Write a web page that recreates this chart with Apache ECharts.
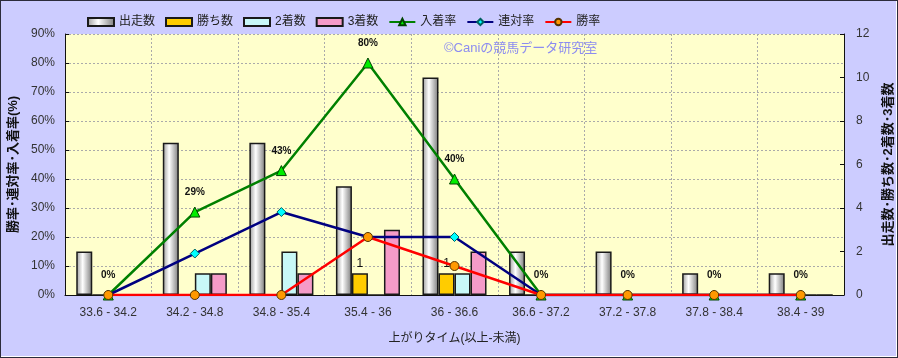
<!DOCTYPE html>
<html>
<head>
<meta charset="utf-8">
<script src="https://cdn.jsdelivr.net/npm/echarts@6/dist/echarts.min.js"></script>
<style>
html,body{margin:0;padding:0;background:#CCCCFF;}
#wrap{width:898px;height:358px;box-sizing:border-box;border:1px solid #2b2b3b;box-shadow:inset -1px -1px 0 #ffffff;background:#CCCCFF;}
#c{width:896px;height:356px;}
</style>
</head>
<body>
<div id="wrap"><div id="c"></div></div>
<script>
const categories = ['33.6 - 34.2','34.2 - 34.8','34.8 - 35.4','35.4 - 36','36 - 36.6','36.6 - 37.2','37.2 - 37.8','37.8 - 38.4','38.4 - 39'];
const starts = [2, 7, 7, 5, 10, 2, 2, 1, 1];
const wins = [0, 0, 0, 1, 1, 0, 0, 0, 0];
const seconds = [0, 1, 2, 0, 1, 0, 0, 0, 0];
const thirds = [0, 1, 1, 3, 2, 0, 0, 0, 0];
const placeRate = [0, 28.6, 42.9, 80, 40, 0, 0, 0, 0];
const quinellaRate = [0, 14.3, 28.6, 20, 20, 0, 0, 0, 0];
const winRate = [0, 0, 0, 20, 10, 0, 0, 0, 0];
const leftTicks = {min: 0, max: 90, interval: 10};
const rightTicks = {min: 0, max: 12, interval: 2};

const FONT = '"Liberation Sans","Noto Sans CJK JP",sans-serif';
const chart = echarts.init(document.getElementById('c'));
const barBorder = {borderColor: '#1a1a1a', borderWidth: 1.5};
function hgrad(a, b, c) {
  return new echarts.graphic.LinearGradient(0, 0, 1, 0, [
    {offset: 0, color: a}, {offset: 0.4, color: b}, {offset: 1, color: c}
  ]);
}
chart.setOption({
  animation: false,
  textStyle: {fontFamily: FONT},
  legend: {
    left: 81, top: 10, itemWidth: 26, itemHeight: 8, itemGap: 10,
    textStyle: {fontSize: 12, color: '#222', fontFamily: FONT},
    data: [
      {name: '出走数', icon: 'rect'}, {name: '勝ち数', icon: 'rect'},
      {name: '2着数', icon: 'rect'}, {name: '3着数', icon: 'rect'},
      '入着率', '連対率', '勝率'
    ]
  },
  graphic: [{
    type: 'text', left: 443, top: 41,
    style: {text: '©Caniの競馬データ研究室', fill: '#8c8cf0', fontSize: 13, fontFamily: FONT}
  }],
  grid: {left: 64, right: 53, top: 33, bottom: 62, show: true, backgroundColor: '#FFFFCC', borderWidth: 0,
         containLabel: false, outerBoundsMode: 'none'},
  xAxis: {
    type: 'category', data: categories,
    name: '上がりタイム(以上-未満)', nameLocation: 'middle', nameGap: 38,
    nameTextStyle: {fontSize: 12, color: '#222'},
    axisLine: {lineStyle: {color: '#111', width: 1}},
    axisTick: {show: false},
    axisLabel: {fontSize: 12, color: '#333', margin: 12},
    splitLine: {show: true, lineStyle: {color: '#aaa', type: [2, 2]}}
  },
  yAxis: [{
    type: 'value', min: leftTicks.min, max: leftTicks.max, interval: leftTicks.interval,
    name: '勝率･連対率･入着率(%)', nameLocation: 'middle', nameGap: 42, nameRotate: 90,
    nameTextStyle: {fontSize: 13, color: '#111', fontWeight: 'bold'},
    axisLine: {show: true, lineStyle: {color: '#111'}},
    axisTick: {show: true, inside: true, length: 4, lineStyle: {color: '#111'}},
    axisLabel: {formatter: '{value}%', fontSize: 12, color: '#333', margin: 10},
    splitLine: {show: true, lineStyle: {color: '#aaa', type: [2, 2]}}
  }, {
    type: 'value', min: rightTicks.min, max: rightTicks.max, interval: rightTicks.interval,
    name: '出走数･勝ち数･2着数･3着数', nameLocation: 'middle', nameGap: 38, nameRotate: 90,
    nameTextStyle: {fontSize: 13, color: '#111', fontWeight: 'bold'},
    axisLine: {show: true, lineStyle: {color: '#111'}},
    axisTick: {show: true, inside: true, length: 4, lineStyle: {color: '#111'}},
    axisLabel: {fontSize: 12, color: '#333', margin: 12},
    splitLine: {show: false}
  }],
  series: [
    {name: '出走数', type: 'bar', yAxisIndex: 1, data: starts, barGap: '0%', barCategoryGap: '26%',
     itemStyle: Object.assign({color: hgrad('#9a9a9a', '#ffffff', '#7a7a7a')}, barBorder)},
    {name: '勝ち数', type: 'bar', yAxisIndex: 1, data: wins,
     itemStyle: Object.assign({color: '#FFCC00'}, barBorder),
     label: {show: true, position: 'top', distance: 4, fontSize: 12, color: '#111',
             formatter: p => p.value > 0 ? String(p.value) : ''}},
    {name: '2着数', type: 'bar', yAxisIndex: 1, data: seconds,
     itemStyle: Object.assign({color: '#C8F8F8'}, barBorder)},
    {name: '3着数', type: 'bar', yAxisIndex: 1, data: thirds,
     itemStyle: Object.assign({color: '#F59BC8'}, barBorder)},
    {name: '入着率', type: 'line', yAxisIndex: 0, data: placeRate,
     lineStyle: {color: '#008000', width: 2.5}, symbol: 'triangle', symbolSize: 10,
     itemStyle: {color: '#00EE00', borderColor: '#004400', borderWidth: 1},
     label: {show: true, position: 'top', distance: 9, fontSize: 10, fontWeight: 'bold', color: '#111',
             formatter: p => Math.round(p.value) + '%'}},
    {name: '連対率', type: 'line', yAxisIndex: 0, data: quinellaRate,
     lineStyle: {color: '#000080', width: 2.5}, symbol: 'diamond', symbolSize: 9,
     itemStyle: {color: '#00FFFF', borderColor: '#006060', borderWidth: 1}},
    {name: '勝率', type: 'line', yAxisIndex: 0, data: winRate,
     lineStyle: {color: '#FF0000', width: 2.5}, symbol: 'circle', symbolSize: 9,
     itemStyle: {color: '#FF9900', borderColor: '#553300', borderWidth: 1}}
  ]
});
</script>
</body>
</html>
